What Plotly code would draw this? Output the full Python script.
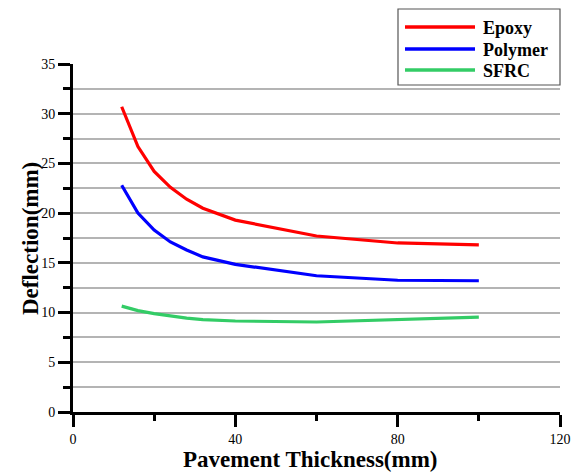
import plotly.graph_objects as go

# Pavement thickness (mm) and mid-span deflection (mm) for each overlay material
thickness = [12, 16, 20, 24, 28, 32, 40, 60, 80, 100]
epoxy = [30.7, 26.7, 24.2, 22.6, 21.4, 20.5, 19.3, 17.7, 17.0, 16.8]
polymer = [22.8, 20.0, 18.3, 17.1, 16.3, 15.6, 14.85, 13.7, 13.25, 13.2]
sfrc = [10.65, 10.2, 9.9, 9.65, 9.45, 9.3, 9.15, 9.05, 9.3, 9.55]

series_names = ["Epoxy", "Polymer", "SFRC"]
series_values = [epoxy, polymer, sfrc]
series_colors = ["#ff0000", "#0000ff", "#33cc66"]

x_ticks = [0, 40, 80, 120]
y_ticks = [0, 5, 10, 15, 20, 25, 30, 35]

FONT = "Liberation Serif, Times New Roman, serif"

# plot-area pixel box
L, R, T, B = 73, 560, 64, 412
PW, PH = R - L, B - T

fig = go.Figure()
for name, vals, col in zip(series_names, series_values, series_colors):
    fig.add_trace(go.Scatter(x=thickness, y=vals, mode="lines", name=name,
                             line=dict(color=col, width=3.2), showlegend=False))

fig.update_layout(
    width=581, height=474,
    margin=dict(l=L, r=581 - R, t=T, b=474 - B),
    paper_bgcolor="white", plot_bgcolor="white",
    font=dict(family=FONT, color="black"),
    xaxis=dict(
        range=[0, 120], tickvals=x_ticks, ticktext=[str(v) for v in x_ticks],
        showgrid=False, zeroline=False, automargin=False,
        showline=True, linecolor="black", linewidth=3,
        ticks="outside", ticklen=12, tickwidth=3, tickcolor="black",
        minor=dict(dtick=20, ticks="outside", ticklen=6, tickwidth=3,
                   tickcolor="black", showgrid=False),
        tickfont=dict(size=14, family=FONT),
    ),
    yaxis=dict(
        range=[0, 35], tickvals=y_ticks, ticktext=[str(v) for v in y_ticks],
        showgrid=True, gridcolor="#b4b4b4", gridwidth=1.5, zeroline=False,
        automargin=False,
        showline=True, linecolor="black", linewidth=3,
        ticks="outside", ticklen=12, tickwidth=3, tickcolor="black",
        minor=dict(dtick=2.5, ticks="outside", ticklen=7, tickwidth=3,
                   tickcolor="black", showgrid=True, gridcolor="#b4b4b4",
                   gridwidth=1.5),
        tickfont=dict(size=14, family=FONT),
    ),
)

def px_x(p):
    return (p - L) / PW

def px_y(p):
    return (B - p) / PH

# Axis titles
fig.add_annotation(xref="paper", yref="paper", x=px_x(310), y=px_y(459),
                   text="<b>Pavement Thickness(mm)</b>", showarrow=False,
                   xanchor="center", yanchor="middle",
                   font=dict(size=23, family=FONT, color="black"))
fig.add_annotation(xref="paper", yref="paper", x=px_x(30), y=px_y(239),
                   text="<b>Deflection(mm)</b>", showarrow=False, textangle=-90,
                   xanchor="center", yanchor="middle",
                   font=dict(size=23, family=FONT, color="black"))

# Boxed legend in the top-right corner with long line samples
fig.add_shape(type="rect", xref="paper", yref="paper",
              x0=px_x(398), x1=px_x(560), y0=px_y(85), y1=px_y(9),
              line=dict(color="#555555", width=1.2), fillcolor="white",
              layer="above")
row_y = [27, 49, 70]
for name, col, ry in zip(series_names, series_colors, row_y):
    fig.add_shape(type="line", xref="paper", yref="paper",
                  x0=px_x(405), x1=px_x(475), y0=px_y(ry), y1=px_y(ry),
                  line=dict(color=col, width=3.4), layer="above")
    fig.add_annotation(xref="paper", yref="paper", x=px_x(481), y=px_y(ry + 1),
                       text=f"<b>{name}</b>", showarrow=False,
                       xanchor="left", yanchor="middle",
                       font=dict(size=18, family=FONT, color="black"))

fig.write_html("out.html")
